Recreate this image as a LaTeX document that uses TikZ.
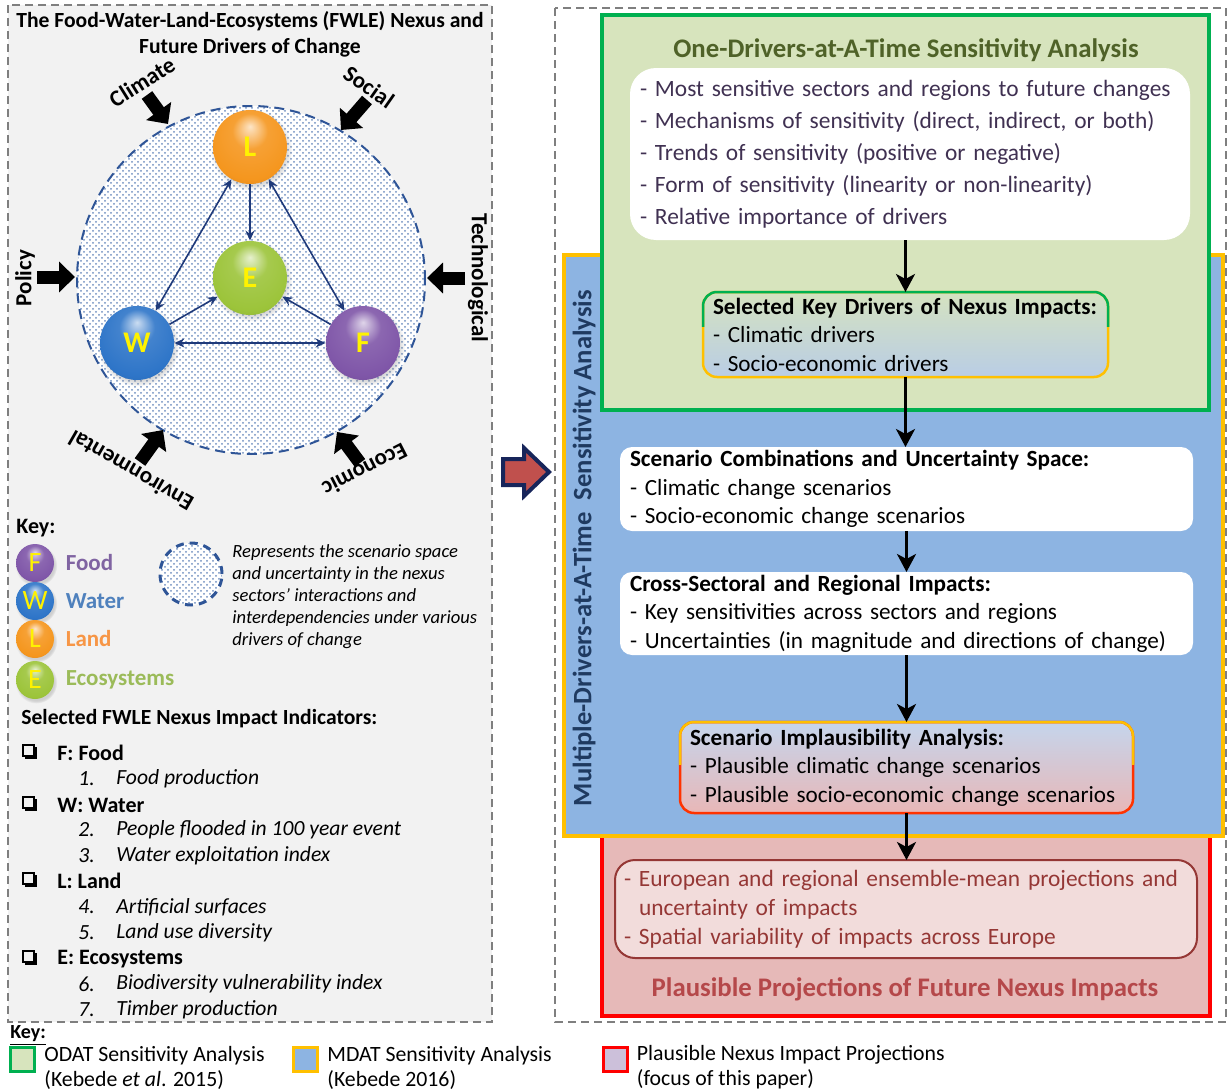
\documentclass[tikz,border=0pt]{standalone}
\usepackage{fontspec}
\setmainfont{Carlito}
\usetikzlibrary{arrows.meta,patterns,positioning,shadows}
\definecolor{panelgray}{HTML}{F2F2F2}
\definecolor{dashgray}{HTML}{7F7F7F}
\definecolor{nexusnavy}{HTML}{1F3A7A}
\definecolor{spaceblue}{HTML}{2F5597}
\definecolor{dotblue}{HTML}{6F8FC0}
\definecolor{landorange}{HTML}{F5961E}
\definecolor{ecogreen}{HTML}{9CC43A}
\definecolor{waterblue}{HTML}{2E75C8}
\definecolor{foodpurple}{HTML}{7F56A8}
\definecolor{foodtxt}{HTML}{8064A2}
\definecolor{watertxt}{HTML}{4F81BD}
\definecolor{landtxt}{HTML}{F79646}
\definecolor{ecotxt}{HTML}{9BBB59}
\definecolor{odatfill}{HTML}{D7E4BD}
\definecolor{odatline}{HTML}{00B050}
\definecolor{odattext}{HTML}{4F6228}
\definecolor{mdatfill}{HTML}{8DB4E2}
\definecolor{mdatline}{HTML}{FFC000}
\definecolor{mdattext}{HTML}{1F3A60}
\definecolor{projfill}{HTML}{E6B9B8}
\definecolor{projinner}{HTML}{F2DCDB}
\definecolor{projtext}{HTML}{953735}
\definecolor{projred}{HTML}{B5484A}
\definecolor{sensetext}{HTML}{403152}
\definecolor{selgreen}{HTML}{D5E2C0}
\definecolor{selblue}{HTML}{B9CDE5}
\definecolor{implblue}{HTML}{C5D5EC}
\definecolor{implpink}{HTML}{E8B7B7}
\definecolor{implred}{HTML}{FF3300}
\definecolor{keylilac}{HTML}{CCC0DA}
\definecolor{arrowred}{HTML}{C0504D}
\definecolor{arrownavy}{HTML}{17255A}
\colorlet{nexuscol}{landorange}
\pgfdeclareradialshading[nexuscol]{glossy}{\pgfqpoint{0bp}{14bp}}{color(0bp)=(nexuscol!25!white);
  color(12bp)=(nexuscol!90!white); color(28bp)=(nexuscol); color(40bp)=(nexuscol!85!black);
  color(50bp)=(nexuscol!65!black)}

\begin{document}
\begin{tikzpicture}[x=0.5pt, y=-0.5pt,
    glossy/.style={/utils/exec={\colorlet{nexuscol}{#1}}, shade, shading=glossy},
    nexusball/.style={circle, minimum size=37pt, inner sep=0pt, text=yellow,
      font=\bfseries\fontsize{15}{15}\selectfont,
      circular drop shadow={shadow xshift=0.6pt, shadow yshift=-1.2pt, opacity=0.3}},
    keyball/.style={nexusball, minimum size=19pt, font=\fontsize{14}{14}\selectfont},
    link/.style={draw=nexusnavy, line width=0.8pt, >={Stealth[length=5pt,width=4.5pt]}},
    driver/.style={line width=6.5pt, -{Triangle[length=8pt,width=15pt]}},
    drivertext/.style={font=\bfseries\fontsize{11.5}{11.5}\selectfont},
    flow/.style={line width=1.5pt, -{Stealth[length=9pt,width=9.5pt,inset=2.5pt]}},
    txtbox/.style={anchor=north west, align=left, inner ysep=0pt, outer sep=0pt,
      font=\fontsize{11.6}{14.25}\selectfont},
    keyswatch/.style={minimum size=12pt, inner sep=0pt, line width=1.5pt},
    keytext/.style={align=left, inner sep=0pt, font=\fontsize{10.9}{12.5}\selectfont},
    indicator/.style={anchor=west, inner sep=0pt, font=\itshape\fontsize{10.8}{10.8}\selectfont},
    sector/.style={anchor=west, inner sep=0pt, font=\bfseries\fontsize{11}{11}\selectfont}
  ]
\useasboundingbox (0,0) rectangle (1228,1092);

% left panel: the FWLE nexus
\draw[dashgray, fill=panelgray, line width=1pt, dash pattern=on 4pt off 2.5pt] (8,5) rectangle (492,1022);
\node[font=\bfseries\fontsize{10.8}{13}\selectfont, align=center] (fwletitle) at (250,34)
  {The Food-Water-Land-Ecosystems (FWLE) Nexus and\\Future Drivers of Change};

\node[circle, minimum size=174pt, draw=spaceblue, line width=1pt, dash pattern=on 5pt off 3pt,
  preaction={fill=white}, pattern=crosshatch dots, pattern color=dotblue] (space) at (251,280) {};

\node[nexusball, glossy=landorange] (L) at (250,147) {L};
\node[nexusball, glossy=ecogreen] (E) at (250,278) {E};
\node[nexusball, glossy=waterblue] (W) at (137,343) {W};
\node[nexusball, glossy=foodpurple] (F) at (363,343) {F};

\draw[link, <->] (L) -- (W);
\draw[link, <->] (L) -- (F);
\draw[link, <->] (W) -- (F);
\draw[link, ->] (L) -- (E);
\draw[link, ->] (W) -- (E);
\draw[link, ->] (F) -- (E);

% drivers of change
\coordinate (climA) at (147,95);  \coordinate (climB) at (168,124);
\coordinate (socA) at (367,100);  \coordinate (socB) at (341,130);
\coordinate (polA) at (37,277);   \coordinate (polB) at (75,277);
\coordinate (techA) at (465,278); \coordinate (techB) at (427,278);
\coordinate (envA) at (140,462);  \coordinate (envB) at (163,430);
\coordinate (ecoA) at (360,463);  \coordinate (ecoB) at (337,432);
\draw[driver] (climA) -- (climB);
\draw[driver] (socA) -- (socB);
\draw[driver] (polA) -- (polB);
\draw[driver] (techA) -- (techB);
\draw[driver] (envA) -- (envB);
\draw[driver] (ecoA) -- (ecoB);
\node[drivertext, rotate=32] (climate) at (142,82) {Climate};
\node[drivertext, rotate=-35] (social) at (369,87) {Social};
\node[drivertext, rotate=90] (policy) at (25,278) {Policy};
\node[drivertext, rotate=-90] (techno) at (478,278) {Technological};
\node[drivertext, rotate=150] (environ) at (131,471) {Environmental};
\node[drivertext, rotate=207] (econ) at (365,470) {Economic};

% key
\node[anchor=west, inner sep=0pt, font=\bfseries\fontsize{11}{11}\selectfont] (keyleft) at (16,528) {Key:};
\node[keyball, glossy=foodpurple] (kF) at (35,563) {F};
\node[keyball, glossy=waterblue] (kW) at (35,601) {W};
\node[keyball, glossy=landorange] (kL) at (35,639) {L};
\node[keyball, glossy=ecogreen] (kE) at (35,680) {E};
\node[right=5.5pt of kF, inner sep=0pt, text=foodtxt, font=\bfseries\fontsize{11.5}{11.5}\selectfont] (kFt) {Food};
\node[right=5.5pt of kW, inner sep=0pt, text=watertxt, font=\bfseries\fontsize{11.5}{11.5}\selectfont] (kWt) {Water};
\node[right=5.5pt of kL, inner sep=0pt, text=landtxt, font=\bfseries\fontsize{11.5}{11.5}\selectfont] (kLt) {Land};
\node[right=5.5pt of kE, inner sep=0pt, text=ecotxt, font=\bfseries\fontsize{11.5}{11.5}\selectfont] (kEt) {Ecosystems};

\node[circle, minimum size=31pt, draw=spaceblue, line width=1.5pt, dash pattern=on 4pt off 3pt,
  preaction={fill=white}, pattern=crosshatch dots, pattern color=dotblue] (keyspace) at (191,574) {};
\node[anchor=west, align=left, inner sep=0pt, font=\itshape\fontsize{9.3}{11}\selectfont] (keyspacetxt) at (232,597)
  {Represents the scenario space\\and uncertainty in the nexus\\sectors’ interactions and\\interdependencies under various\\drivers of change};

\node[anchor=west, inner sep=0pt, font=\bfseries\fontsize{10.8}{10.8}\selectfont] (indtitle) at (21,719)
  {Selected FWLE Nexus Impact Indicators:};

\foreach \yy/\nm/\txt in {753/F/{F: Food}, 805/W/{W: Water}, 881/L/{L: Land}, 959/E/{E: Ecosystems}}{
  \draw[line width=0.7pt] (23,{\yy-8}) rectangle (34,{\yy+3});
  \fill (25,{\yy+3}) rectangle (36.5,{\yy+5.5});
  \fill (34,{\yy-6}) rectangle (36.5,{\yy+5.5});
  \node[sector] (sec\nm) at (57,\yy) {\txt};
}
\foreach \yy/\nn/\txt in {779/1/Food production, 830/2/People flooded in 100 year event,
    856/3/Water exploitation index, 907/4/Artificial surfaces, 933/5/Land use diversity,
    984/6/Biodiversity vulnerability index, 1010/7/Timber production}{
  \node[indicator] (num\nn) at (78,\yy) {\nn.};
  \node[indicator] (ind\nn) at (116,\yy) {\txt};
}

% arrow between panels
\draw[arrownavy, fill=arrowred, line width=2pt, line join=miter]
  (503,459) -- (524,459) -- (524,448) -- (549,472) -- (524,496) -- (524,485) -- (503,485) -- cycle;

% right panel: sensitivity analyses
\draw[dashgray, line width=1pt, dash pattern=on 4pt off 2.5pt] (555,8) rectangle (1226,1022);
\draw[draw=red, fill=projfill, line width=2pt] (602,836) rectangle (1210,1016);
\draw[draw=mdatline, fill=mdatfill, line width=2pt] (564,255) rectangle (1223,836);
\draw[draw=odatline, fill=odatfill, line width=2pt] (602,15) rectangle (1209,410);

\node[text=odattext, font=\bfseries\fontsize{13.4}{13.4}\selectfont] (odattitle) at (906,50)
  {One-Drivers-at-A-Time Sensitivity Analysis};
\node[rotate=90, text=mdattext, font=\bfseries\fontsize{13.3}{13.3}\selectfont] (mdattitle) at (584,548)
  {Multiple-Drivers-at-A-Time\ \ Sensitivity Analysis};
\node[text=projred, font=\bfseries\fontsize{13.4}{13.4}\selectfont] (projtitle) at (905,989)
  {Plausible Projections of Future Nexus Impacts};

\node[txtbox, fill=white, rounded corners=13pt, text=sensetext, inner xsep=5pt, text width=270pt,
  minimum height=86pt, font=\fontsize{11.7}{16}\selectfont] (sens) at (630,68)
  {- Most sensitive sectors and regions to future changes\\
   - Mechanisms of sensitivity (direct, indirect, or both)\\
   - Trends of sensitivity (positive or negative)\\
   - Form of sensitivity (linearity or non-linearity)\\
   - Relative importance of drivers};

\node[txtbox, rounded corners=7pt, top color=selgreen, bottom color=selblue, draw=mdatline,
  line width=1.25pt, inner xsep=5pt, text width=192.5pt, minimum height=42.5pt] (sel) at (703,292)
  {\textbf{Selected Key Drivers of Nexus Impacts:}\\- Climatic drivers\\- Socio-economic drivers};
\begin{scope}
  \clip (690,280) rectangle (1120,326);
  \draw[odatline, line width=1.25pt, rounded corners=7pt] (sel.north west) rectangle (sel.south east);
\end{scope}

\node[txtbox, fill=white, rounded corners=6pt, inner xsep=5pt, text width=276.5pt,
  minimum height=42pt] (scen) at (620,447)
  {\textbf{Scenario Combinations and Uncertainty Space:}\\- Climatic change scenarios\\- Socio-economic change scenarios};

\node[txtbox, fill=white, rounded corners=6pt, inner xsep=5pt, text width=276.5pt,
  minimum height=41.5pt] (cross) at (620,572)
  {\textbf{Cross-Sectoral and Regional Impacts:}\\- Key sensitivities across sectors and regions\\- Uncertainties (in magnitude and directions of change)};

\node[txtbox, rounded corners=7pt, top color=implblue, bottom color=implpink, draw=implred,
  line width=1.25pt, inner xsep=5pt, text width=216.5pt, minimum height=45.5pt] (impl) at (680,722)
  {\textbf{Scenario Implausibility Analysis:}\\- Plausible climatic change scenarios\\- Plausible socio-economic change scenarios};
\begin{scope}
  \clip (670,710) rectangle (1140,764);
  \draw[mdatline, line width=1.25pt, rounded corners=7pt] (impl.north west) rectangle (impl.south east);
\end{scope}

\node[txtbox, fill=projinner, draw=projtext, line width=1pt, rounded corners=10pt, text=projtext,
  inner xsep=4.5pt, text width=282pt, minimum height=49pt, font=\fontsize{11.7}{14.5}\selectfont] (proj) at (615,860)
  {- European and regional ensemble-mean projections and\\
   \hspace*{7.5pt}uncertainty of impacts\\
   - Spatial variability of impacts across Europe};

\draw[flow] (sel.north |- sens.south) -- (sel.north);
\draw[flow] (sel.south) -- (sel.south |- scen.north);
\draw[flow] (scen.south) -- (scen.south |- cross.north);
\draw[flow] (cross.south) -- (cross.south |- impl.north);
\draw[flow] (impl.south) -- (impl.south |- proj.north);

% bottom key
\node[anchor=west, inner sep=0pt, font=\bfseries\fontsize{10}{10}\selectfont] (keybottom) at (10,1036) {\underline{Key:}};
\node[keyswatch, draw=odatline, fill=odatfill] (kodat) at (22.5,1059.5) {};
\node[keyswatch, draw=mdatline, fill=mdatfill] (kmdat) at (305.5,1059.5) {};
\node[keyswatch, draw=red, fill=keylilac] (kproj) at (615,1059.5) {};
\node[keytext, right=4pt of kodat, yshift=-4pt] (todat) {ODAT Sensitivity Analysis\\(Kebede \textit{et al}. 2015)};
\node[keytext, right=4pt of kmdat, yshift=-4pt] (tmdat) {MDAT Sensitivity Analysis\\(Kebede 2016)};
\node[keytext, right=4pt of kproj, yshift=-4pt] (tproj) {Plausible Nexus Impact Projections\\(focus of this paper)};
\end{tikzpicture}
\end{document}
